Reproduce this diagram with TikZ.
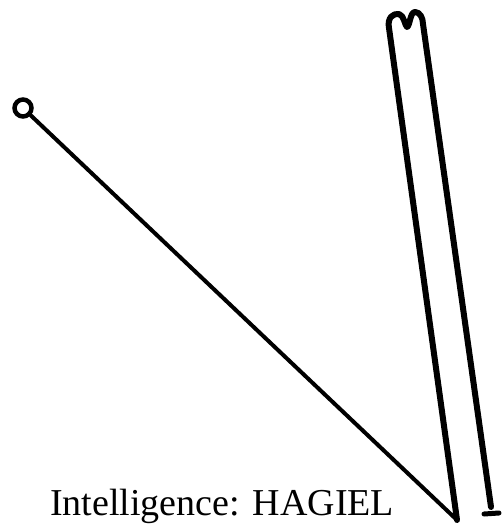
\documentclass[tikz,border=0pt]{standalone}
\usepackage{fontspec}
\setmainfont{Liberation Serif}
\usepackage{tikz}
\usetikzlibrary{positioning,calc}

\begin{document}
\begin{tikzpicture}[x=1pt,y=-1pt,
  stroke/.style={draw=black,line width=6pt,line cap=round,line join=round},
  thin stroke/.style={draw=black,line width=4pt,line cap=round},
  label/.style={font=\fontsize{38}{40}\selectfont,inner sep=0pt}]
\useasboundingbox (0,0) rectangle (502,525);
% points of the sigil
\coordinate (ring) at (23,108);
\coordinate (tip) at (457,520);
\coordinate (lefttop) at (389,28);
\coordinate (rightend) at (491,507);
\node[circle,draw=black,line width=4.5pt,minimum size=17pt,inner sep=0pt] (eye) at (ring) {};
\draw[thin stroke] (eye) -- (tip);
% tall narrow shape
\draw[stroke] (tip) -- (lefttop)
  .. controls (387,18) and (393,13) .. (399,14)
  .. controls (404,15) and (405,26) .. (407,27)
  .. controls (410,26) and (410,12) .. (415,12)
  .. controls (420,12) and (423,18) .. (423,24)
  -- (rightend);
\draw[stroke,line width=5pt] (484,514) -- (499,513);
\node[label,anchor=base west] (name) at (50,515) {Intelligence: HAGIEL};
\end{tikzpicture}
\end{document}
